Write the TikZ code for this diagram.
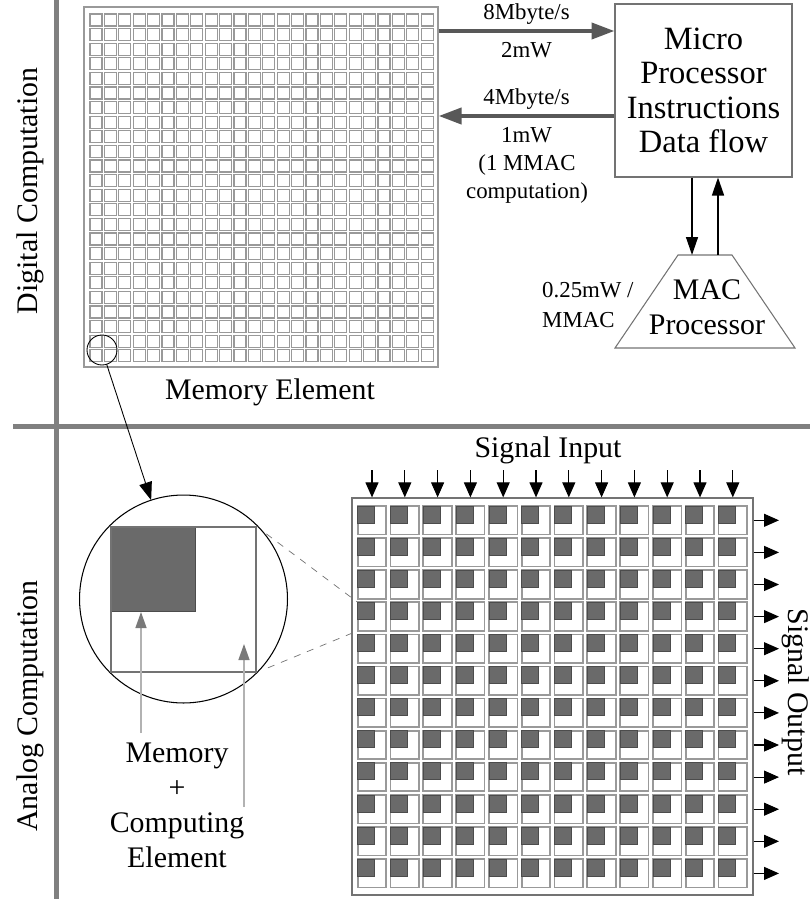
\documentclass[tikz,border=0pt]{standalone}
\usepackage{fontspec}
\setmainfont{Liberation Serif}
\usetikzlibrary{arrows.meta,fit}

\definecolor{trait}{HTML}{808080}
\definecolor{fonce}{HTML}{6A6A6A}
\definecolor{bus}{HTML}{585858}

\begin{document}
\begin{tikzpicture}[x=0.02cm,y=-0.02cm,
    texte/.style={font=\fontsize{17}{20}\selectfont, align=center},
    note/.style={font=\fontsize{13}{15.5}\selectfont, align=center},
    cadre/.style={draw=gray!90!black, line width=0.6pt}]
  \useasboundingbox (0,0) rectangle (810,899);
  % séparations
  \draw[trait, line width=0.1cm] (56,0) -- (56,899);
  \draw[trait, line width=0.1cm] (13,426) -- (810,426);
  \node[texte, rotate=90] (num) at (30,191) {Digital Computation};
  \node[texte, rotate=90] (ana) at (30,706) {Analog Computation};
  % mémoire numérique
  \node[draw=gray!80, line width=0.7pt, inner sep=0, fit={(84,7) (438,367)}] (mem) {};
  \foreach \i in {0,...,23}
    \foreach \j in {0,...,23}
      \draw[gray!80, line width=0.75pt] ({90+14.4*\i},{14+14.6*\j}) rectangle ++(12,12);
  \node[texte] (memlab) at (270,392) {Memory Element};
  % processeur
  \node[cadre, minimum width=3.54cm, minimum height=3.46cm, align=center,
        font=\fontsize{18.5}{19.5}\selectfont] (mpu) at (703.5,90.5)
        {Micro\\Processor\\Instructions\\Data flow};
  \coordinate (haut) at (0,31);
  \coordinate (bas) at (0,116);
  \begin{scope}[bus/.style={draw=bus, line width=0.08cm,
      -{Triangle[length=0.46cm,width=0.32cm]}}]
    \draw[bus] (mem.east |- haut) -- (mpu.west |- haut)
      node[note, midway, above=-1pt] (d1) {8Mbyte/s}
      node[note, midway, below=2pt] (p1) {2mW};
    \draw[bus] (mpu.west |- bas) -- (mem.east |- bas)
      node[note, midway, above=-1pt] (d2) {4Mbyte/s}
      node[note, midway, below=2pt] (p2) {1mW};
  \end{scope}
  \node[note] (calc) at (527,179) {(1 MMAC\\computation)};
  % MAC
  \draw[cadre] (615,348) -- (678,255) -- (732,255) -- (795,348) -- cycle;
  \coordinate (mactop) at (705,255);
  \node[texte] (mac) at (707,307) {MAC\\Processor};
  \node[note, align=left, anchor=west, font=\fontsize{13}{17}\selectfont] (cout) at (536,305) {0.25mW /\\MMAC};
  \coordinate (xa) at (692,0);
  \coordinate (xb) at (718,0);
  \begin{scope}[ctl/.style={line width=0.8pt, -{Triangle[length=0.36cm,width=0.24cm]}}]
    \draw[ctl] (mpu.south -| xa) -- (mactop -| xa);
    \draw[ctl] (mactop -| xb) -- (mpu.south -| xb);
  \end{scope}
  % loupe
  \node[circle, draw, line width=0.5pt, minimum size=0.6cm, inner sep=0, outer sep=0] (loupe) at (102,350) {};
  \node[circle, draw, line width=0.6pt, minimum size=4.16cm, inner sep=0, outer sep=0] (cercle) at (183.5,599) {};
  \draw[line width=0.5pt, -{Triangle[length=0.36cm,width=0.26cm]}] (loupe) -- (cercle);
  \fill[fonce, draw=black!70, line width=0.5pt] (111,527) rectangle (195,611);
  \node[draw=gray!90!black, line width=0.6pt, inner sep=0, fit={(111,527) (256,672)}] (elem) {};
  \coordinate (cibleh) at (357.7,602.3);
  \coordinate (cibleb) at (357.7,630.8);
  \draw[gray!90!black, dashed, dash pattern=on 4pt off 4pt, shorten <=7pt] (elem.north east) -- (cibleh);
  \draw[gray!90!black, dashed, dash pattern=on 4pt off 4pt, shorten <=7pt] (elem.south east) -- (cibleb);
  \coordinate (m1) at (141,733);
  \coordinate (m1b) at (141,612);
  \coordinate (m2) at (244,807);
  \coordinate (m2b) at (244,644);
  \begin{scope}[gris/.style={draw=gray!60, line width=0.8pt,
      -{Triangle[length=0.32cm,width=0.22cm,color=gray!95!black,fill=gray!95!black]}}]
    \draw[gris] (m1) -- (m1b);
    \draw[gris] (m2) -- (m2b);
  \end{scope}
  \node[texte, font=\fontsize{17}{19.9}\selectfont] (mce) at (177,805) {Memory\\+\\Computing\\Element};
  % réseau analogique
  \node[draw=gray!90!black, line width=0.7pt, inner sep=0, fit={(352,498) (753,895)}] (res) {};
  \foreach \i in {0,...,11}
    \foreach \j in {0,...,11} {
      \draw[gray!80, line width=1pt] ({357.7+32.8*\i},{506+32.1*\j}) rectangle ++(28.5,28.5);
      \fill[fonce, draw=black!70, line width=0.4pt] ({357.7+32.8*\i},{506+32.1*\j}) rectangle ++(17,17);
    }
  \begin{scope}[sig/.style={line width=0.6pt, -{Triangle[length=0.3cm,width=0.26cm]}}]
    \foreach \i in {0,...,11} {
      \coordinate (e\i) at ({372+32.8*\i},470);
      \draw[sig] (e\i) -- (e\i |- res.north);
      \coordinate (s\i) at (779,{520.3+32.1*\i});
      \draw[sig] (s\i -| res.east) -- (s\i);
    }
  \end{scope}
  \node[texte] (sin) at (548,450) {Signal Input};
  \node[texte, rotate=-90] (sout) at (796,692) {Signal Output};
\end{tikzpicture}
\end{document}
